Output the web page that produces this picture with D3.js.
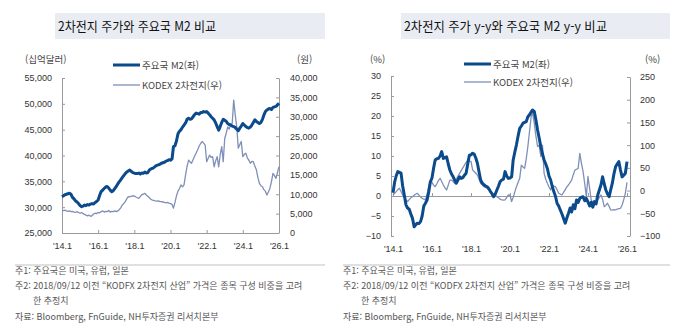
<!DOCTYPE html>
<html lang="ko">
<head>
<meta charset="UTF-8" />
<title>2차전지 주가와 주요국 M2</title>
<style>
  body { margin: 0; background: #fff; }
  svg text { font-family: "Liberation Sans", Arial, sans-serif; }
  .kr { font-family: "Noto Sans CJK KR", sans-serif; }
  .axis path, .axis line { stroke: #9a9a9a; }
  .axis text { fill: #333; font-size: 9px; }
</style>
</head>
<body>
<div id="chart"></div>
<script src="https://d3js.org/d3.v7.min.js"></script>
<script>
// monthly values, Jan 2014 .. Jan 2026
var start = new Date(2014, 0, 1);

// left chart: major economies M2 (bn USD, left axis)
var m2Level = [
  32000, 32200, 32400, 32500, 32600, 32700, 32500, 31900, 31600, 31200, 31000, 30700,
  30300, 30100, 30200, 30400, 30300, 30500, 30400, 30600, 30700, 30600, 30900, 31100,
  31400, 32300, 33000, 33300, 33600, 33900, 34000, 33700, 33300, 33000, 33200, 33600,
  34000, 34500, 34900, 35300, 35700, 36100, 36500, 36800, 37000, 37200, 36900, 36700,
  36600, 36500, 36500, 36600, 36400, 36600, 36550, 36800, 36600, 36700, 37200, 37400,
  37500, 37700, 37900, 38100, 38200, 38300, 38500, 38600, 38700, 38900, 39000, 39200,
  39100, 39300, 41700, 41900, 42800, 44200, 44700, 45000, 45500, 45900, 46300, 47000,
  47200, 47000, 47100, 47500, 47900, 48200, 48100, 48000, 48300, 48300, 48500, 48400,
  48500, 48200, 47900, 47500, 47200, 46900, 46300, 45600, 44900, 45600, 46400, 47000,
  46800, 46600, 46200, 46000, 45900, 45700, 45600, 45400, 45100, 44800, 45300, 45700,
  46200, 45900, 45600, 45400, 45300, 45500, 45900, 46400, 46900, 46600, 46400, 46200,
  46400, 47000, 47800, 48500, 48800, 49000, 49100, 48900, 49300, 49400, 49500, 49800,
  50100
];
// left chart: KODEX battery ETF (won, right axis)
var kodexLevel = [
  5900, 5800, 5900, 5700, 5600, 5700, 5500, 5600, 5400, 5300, 5500, 5300,
  5100, 5300, 5000, 4800, 4600, 4400, 4600, 4300, 4500, 4900, 5100, 5000,
  5300, 5200, 5500, 5700, 5400, 5600, 5500, 5800, 5400, 5600, 5500, 5700,
  5500, 5700, 6000, 6500, 7200, 7600, 8100, 8800, 9400, 9300, 9500, 9600,
  9550, 9300, 9100, 8950, 9400, 9900, 10000, 10240, 9800, 9500, 9100, 8700,
  8500, 8400, 8300, 8200, 8300, 8100, 8100, 8000, 7900, 7800, 7900, 7700,
  7600, 7400, 6400, 7900, 9600, 10800, 11500, 12400, 11900, 12400, 15000, 17200,
  18800, 18300, 18000, 18900, 19800, 20600, 21400, 22400, 23100, 23600, 23200, 22700,
  18400, 19300, 20100, 19500, 19700, 17100, 18600, 19700, 17100, 20200, 22300, 18400,
  24400, 25800, 27400, 26800, 27900, 28300, 34300, 30500, 27400, 21900, 22800, 23600,
  19700, 20300, 20600, 19400, 18800, 18000, 18500, 18400, 17200, 16300, 14300, 12800,
  12200, 11950, 11200, 10800, 9800, 10600, 11500, 13200, 15400, 14800, 14100, 15600,
  17100
];
// right chart: M2 y-y (%, left axis)
var m2Yoy = [
  0.8, 3.5, 5.0, 6.1, 5.9, 5.7, 2.5, 0.2, -2.2, -3.0, -3.3, -4.5,
  -5.6, -7.7, -7.2, -6.8, -6.9, -6.4, -5.0, -2.5, -1.8, -1.0, 1.0, 3.5,
  4.5, 7.0, 9.0, 9.3, 9.4, 10.0, 11.1, 9.4, 9.6, 9.8, 8.0, 6.5,
  5.5, 4.8, 4.0, 3.2, 4.0, 4.8, 4.4, 4.6, 5.2, 5.7, 8.0, 10.2,
  10.3, 10.7, 10.5, 9.5, 8.2, 6.0, 4.0, 3.2, 2.8, 2.5, 2.3, 1.8,
  1.1, 0.5, -0.2, 0.5, 1.5, 2.5, 3.6, 4.0, 4.2, 6.1, 5.0, 4.4,
  4.5, 4.8, 9.0, 11.0, 12.8, 15.0, 16.9, 17.5, 18.2, 18.4, 18.6, 19.8,
  20.3, 21.0, 21.5, 21.1, 19.0, 16.5, 14.5, 12.3, 10.5, 9.0, 8.0, 6.9,
  5.0, 4.0, 2.5, 1.1, 0.0, -1.8, -2.5, -3.5, -4.5, -5.6, -6.8, -5.5,
  -4.3, -3.0, -4.0, -2.2, -3.2, -1.0, -1.6, -0.6, -0.3, -0.2, -1.2, -0.6,
  -1.5, -2.5, -1.6, -2.8, -1.4, -2.0, 0.2, 1.5, 2.8, 4.8, 3.0, 1.5,
  0.5, -0.2, 1.5, 3.2, 5.5, 7.3, 8.0, 8.6, 6.5, 4.8, 5.2, 5.7,
  8.6
];
// right chart: KODEX y-y (%, right axis)
var kodexYoy = [
  -9.7, -6, -2.4, 2, 5, -2, -9.7, -15, -20, -24, -20, -16,
  -13.4, -10, -8, -6, -10, -14, -17, -19, -20.7, -8, 8, 23,
  18, 12, 8.6, 15, 22, 27, 20, 12.3, 6, 1.3, 12, 23,
  23, 20, 16, 25, 32, 38, 44, 50, 56, 62, 67, 65,
  64, 45, 42, 38, 34, 25, 16, 12, 8.6, 7, 5, 2,
  -2, -6, -8, -11, -13.4, -16, -19, -20.7, -21, -20.7, -15, -9.7,
  -9.7, -24, -15, -3, 8.6, 18, 27, 56, 52, 49, 70, 97,
  130, 163, 170, 148, 120, 97, 100, 75, 100, 38, 25, 16,
  8, 1.3, 12.3, 10, 8.6, 2, -6, -8, -9.7, -4, 2, 8,
  12.3, 18, 23, 35, 45, 47, 49, 82, 60, 42, 15, -13.4,
  31, 5, -20.7, -26, -31.7, -25, -20.7, -15, -9.7, -20, -35.5, -32,
  -28, -35, -42.7, -43, -42, -42.7, -41, -40, -39, -31.7, -20, -6,
  18
];

var xTicks = [2014, 2016, 2018, 2020, 2022, 2024, 2026];
var leftTicksA = [25000, 30000, 35000, 40000, 45000, 50000, 55000];
var rightTicksA = [0, 5000, 10000, 15000, 20000, 25000, 30000, 35000, 40000];
var leftTicksB = [-10, -5, 0, 5, 10, 15, 20, 25, 30];
var rightTicksB = [-100, -50, 0, 50, 100, 150, 200, 250];

var titleA = "2차전지 주가와 주요국 M2 비교";
var titleB = "2차전지 주가 y-y와 주요국 M2 y-y 비교";
var legendNames = ["주요국 M2(좌)", "KODEX 2차전지(우)"];
var notes = [
  "주1: 주요국은 미국, 유럽, 일본",
  "주2: 2018/09/12 이전 “KODFX 2차전지 산업” 가격은 종목 구성 비중을 고려",
  "한 추정치",
  "자료: Bloomberg, FnGuide, NH투자증권 리서치본부"
];

var dark = "#0b4a8b", light = "#7f8fb7";

var svg = d3.select("#chart").append("svg")
  .attr("width", 677).attr("height", 331);

function monthDate(i) { return d3.timeMonth.offset(start, i); }
var fmtX = function(d) { return "'" + String(d.getFullYear()).slice(2) + ".1"; };

function panel(o) {
  var g = svg.append("g");
  // title bar
  g.append("rect").attr("x", o.box[0]).attr("y", 13).attr("width", o.box[1] - o.box[0])
    .attr("height", 26).attr("fill", "#e9edf3");
  g.append("text").attr("class", "kr").attr("x", o.box[0] + 3).attr("y", 31)
    .attr("font-size", 13).attr("fill", "#111")
    .attr("textLength", o.titleLen).attr("lengthAdjust", "spacingAndGlyphs")
    .text(o.title);

  var x = d3.scaleTime().domain([new Date(2014, 0, 1), new Date(2026, 0, 1)]).range(o.xr);
  var yL = d3.scaleLinear().domain(o.yLd).range(o.yLr);
  var yR = d3.scaleLinear().domain(o.yRd).range(o.yRr);
  var tickDates = xTicks.map(function(y) { return new Date(y, 0, 1); });

  // axes
  g.append("g").attr("class", "axis").attr("transform", "translate(" + o.axL + ",0)")
    .call(d3.axisLeft(yL).tickValues(o.ticksL).tickFormat(o.fmtL)
      .tickSize(-3).tickSizeOuter(0).tickPadding(o.padL));
  g.append("g").attr("class", "axis").attr("transform", "translate(" + o.axR + ",0)")
    .call(d3.axisRight(yR).tickValues(o.ticksR).tickFormat(o.fmtR)
      .tickSize(-3).tickSizeOuter(0).tickPadding(o.padR));
  g.append("g").attr("class", "axis").attr("transform", "translate(0," + o.xAxisY + ")")
    .call(d3.axisBottom(x).tickValues(tickDates).tickFormat("").tickSize(-3).tickSizeOuter(0))
    .select(".domain").attr("d", "M" + o.axL + ",0.5H" + o.axR);
  var lab = g.append("g").attr("class", "axis").attr("transform", "translate(0," + o.labY + ")")
    .call(d3.axisBottom(x).tickValues(tickDates).tickFormat(fmtX).tickSize(0).tickPadding(0));
  lab.select(".domain").remove();

  // lines
  var lineR = d3.line().x(function(d, i) { return x(monthDate(i)); }).y(function(d) { return yR(d); });
  var lineL = d3.line().x(function(d, i) { return x(monthDate(i)); }).y(function(d) { return yL(d); });
  g.append("path").datum(o.seriesR).attr("d", lineR).attr("fill", "none")
    .attr("stroke", light).attr("stroke-width", 1.3).attr("stroke-linejoin", "round");
  g.append("path").datum(o.seriesL).attr("d", lineL).attr("fill", "none")
    .attr("stroke", dark).attr("stroke-width", 3).attr("stroke-linejoin", "round");

  // unit labels
  g.append("text").attr("class", "kr").attr("x", o.unitL[0]).attr("y", 63)
    .attr("font-size", 9.5).attr("fill", "#444").text(o.unitL[1]);
  g.append("text").attr("class", "kr").attr("x", o.unitR[0]).attr("y", 63)
    .attr("font-size", 9.5).attr("fill", "#444").text(o.unitR[1]);

  // legend
  var lg = g.append("g").attr("transform", "translate(" + o.leg[0] + ",0)");
  [[o.leg[1], dark, 3], [o.leg[2], light, 1.3]].forEach(function(r, k) {
    lg.append("line").attr("x1", 0).attr("x2", 27).attr("y1", r[0]).attr("y2", r[0])
      .attr("stroke", r[1]).attr("stroke-width", r[2]);
    lg.append("text").attr("class", "kr").attr("x", 29).attr("y", r[0] + 3.5)
      .attr("font-size", 9.5).attr("fill", "#444").text(legendNames[k]);
  });

  // notes
  g.append("line").attr("x1", o.noteX).attr("x2", o.box[1]).attr("y1", 265).attr("y2", 265)
    .attr("stroke", "#d6d6d6").attr("stroke-width", 1.5);
  var ny = [274, 289, 304, 320];
  notes.forEach(function(t, k) {
    g.append("text").attr("class", "kr").attr("x", o.noteX + (k === 2 ? 18 : 0)).attr("y", ny[k])
      .attr("font-size", 9).attr("fill", "#555").text(t);
  });
  return g;
}

var fmtC = d3.format(",");
panel({
  box: [55, 325], noteX: 15, title: titleA, titleLen: 158,
  xr: [62, 279], axL: 62, axR: 279, xAxisY: 233, labY: 243,
  yLd: [25000, 55000], yLr: [233, 78], yRd: [0, 40000], yRr: [233, 78],
  ticksL: leftTicksA, ticksR: rightTicksA, fmtL: fmtC, fmtR: fmtC, padL: 10, padR: 11,
  seriesL: m2Level, seriesR: kodexLevel,
  unitL: [25, "(십억달러)"], unitR: [297, "(원)"], leg: [113, 65, 85]
});

panel({
  box: [401, 670], noteX: 343, title: titleB, titleLen: 203,
  xr: [393, 627], axL: 391, axR: 630, xAxisY: 196, labY: 246,
  yLd: [-10, 30], yLr: [236, 76], yRd: [-100, 250], yRr: [236, 77],
  ticksL: leftTicksB, ticksR: rightTicksB, fmtL: d3.format("d"), fmtR: d3.format("d"), padL: 10, padR: 10,
  seriesL: m2Yoy, seriesR: kodexYoy,
  unitL: [370, "(%)"], unitR: [645, "(%)"], leg: [464, 64, 82]
});
</script>
</body>
</html>
